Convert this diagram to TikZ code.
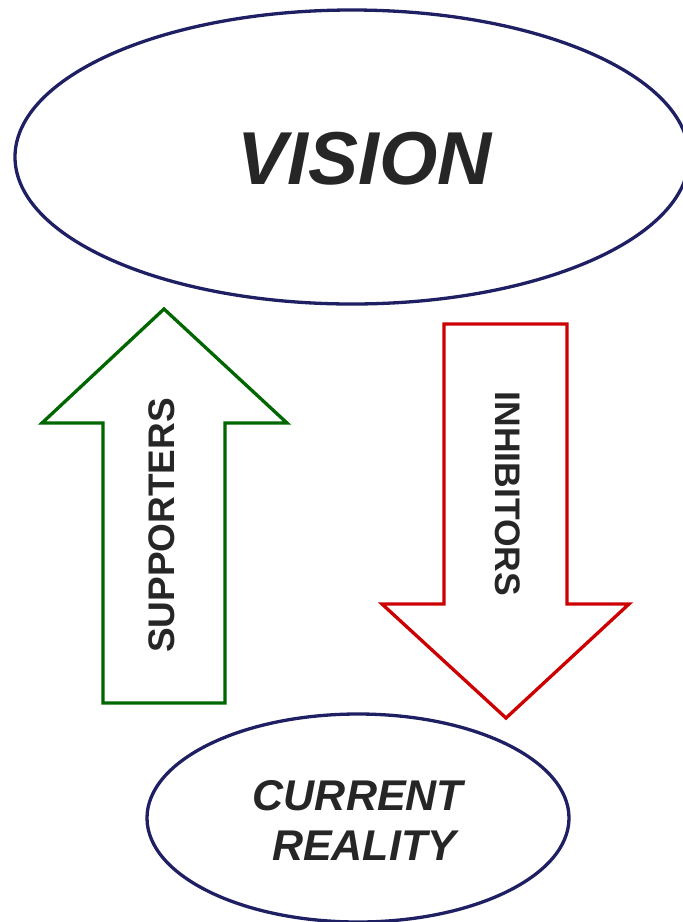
\documentclass[tikz,border=0pt]{standalone}
\usepackage{fontspec}
\setmainfont{Liberation Sans}
\definecolor{navyline}{RGB}{31,31,99}
\definecolor{upgreen}{RGB}{0,102,0}
\definecolor{downred}{RGB}{204,0,0}
\definecolor{textgray}{RGB}{38,38,38}
\tikzset{
  oval/.style={draw=navyline, line width=3.3pt},
  blockarrow/.style={line width=3.3pt, line join=miter},
  label/.style={inner sep=0pt, text=textgray, font=\bfseries}
}
\begin{document}
\begin{tikzpicture}[x=1pt, y=-1pt]
		\useasboundingbox (0,0) rectangle (683,922);
		\clip (0,0) rectangle (683,922);
		\draw [oval] (352,157) ellipse [x radius=337, y radius=147];
		\draw [oval] (358,818) ellipse [x radius=211, y radius=104];
		\draw [blockarrow, draw=upgreen] (164,309) -- (287,423) -- (225,423) -- (225,703) -- (103,703) -- (103,423) -- (42,423) -- cycle;
		\draw [blockarrow, draw=downred] (506,718) -- (629,604) -- (567,604) -- (567,324) -- (444,324) -- (444,604) -- (382,604) -- cycle;
		\node [label, font=\fontsize{75}{90}\selectfont\bfseries\itshape] (vision) at (365,159) {VISION};
		\node [label, align=center, font=\fontsize{43}{50}\selectfont\bfseries\itshape] (reality) at (358,820) {CURRENT\\\hspace*{12pt}REALITY};
		\node [label, rotate=90, font=\fontsize{37}{44}\selectfont\bfseries] (supporters) at (161.5,525.5) {SUPPORTERS};
		\node [label, rotate=-90, font=\fontsize{35.5}{42}\selectfont\bfseries] (inhibitors) at (507.5,494) {INHIBITORS};
	\end{tikzpicture}
\end{document}
